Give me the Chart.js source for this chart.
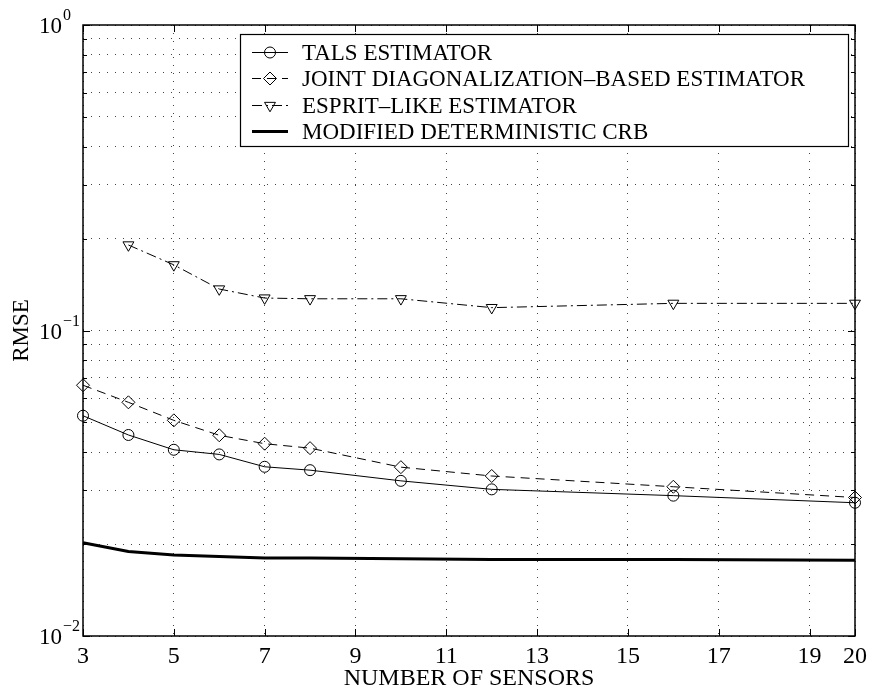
<!DOCTYPE html>
<html>
<head>
<meta charset="utf-8">
<title>RMSE vs number of sensors</title>
<script src="https://cdn.jsdelivr.net/npm/chart.js@4.4.1/dist/chart.umd.min.js"></script>
<style>
  html, body { margin: 0; padding: 0; background: #fff; }
  #wrap { width: 873px; height: 693px; }
</style>
</head>
<body>
<div id="wrap"><canvas id="rmseChart" width="873" height="693"></canvas></div>
<script>
const SERIF = '"Liberation Serif", "Times New Roman", Times, serif';

// values
const sensors = [3, 4, 5, 6, 7, 8, 10, 12, 16, 20];
const talsRmse = [0.0526, 0.0455, 0.0407, 0.0393, 0.0358, 0.0349, 0.0322, 0.0302, 0.0288, 0.0273];
const jointRmse = [0.0662, 0.0582, 0.0508, 0.0454, 0.0426, 0.0412, 0.0357, 0.0334, 0.0308, 0.0284];
const espritRmse = [null, 0.1905, 0.164, 0.1367, 0.1277, 0.127, 0.127, 0.1188, 0.1227, 0.1227];
const crbRmse = [0.0202, 0.0189, 0.0184, 0.0182, 0.0180, 0.0180, 0.0179, 0.0178, 0.0178, 0.0177];

const seriesNames = [
  "TALS ESTIMATOR",
  "JOINT DIAGONALIZATION\u2013BASED ESTIMATOR",
  "ESPRIT\u2013LIKE ESTIMATOR",
  "MODIFIED DETERMINISTIC CRB"
];
const xTicks = [3, 5, 7, 9, 11, 13, 15, 17, 19, 20];
const yTicks = [0.01, 0.02, 0.03, 0.04, 0.05, 0.06, 0.07, 0.08, 0.09,
                0.1, 0.2, 0.3, 0.4, 0.5, 0.6, 0.7, 0.8, 0.9, 1];
const yDecades = [0.01, 0.1, 1];

function toPoints(vals) {
  return sensors.map((s, i) => ({ x: s, y: vals[i] }));
}

// box + inward tick marks like the matlab axes
const framePlugin = {
  id: 'frame',
  beforeDatasetsDraw(chart) {
    const { ctx, chartArea: a, scales: { x, y } } = chart;
    ctx.save();
    ctx.strokeStyle = '#000';
    ctx.lineWidth = 1;
    ctx.beginPath();
    xTicks.forEach(v => {
      const px = Math.round(x.getPixelForValue(v)) + 0.5;
      ctx.moveTo(px, a.bottom); ctx.lineTo(px, a.bottom - 7);
      ctx.moveTo(px, a.top); ctx.lineTo(px, a.top + 7);
    });
    yTicks.forEach(v => {
      const py = Math.round(y.getPixelForValue(v)) + 0.5;
      const len = yDecades.includes(v) ? 7 : 4;
      ctx.moveTo(a.left, py); ctx.lineTo(a.left + len, py);
      ctx.moveTo(a.right, py); ctx.lineTo(a.right - len, py);
    });
    ctx.stroke();
    ctx.lineWidth = 1.5;
    ctx.strokeRect(a.left, a.top, a.right - a.left, a.bottom - a.top);
    ctx.restore();
  }
};

// 10^k labels with raised exponent
const yLabelPlugin = {
  id: 'yLabels',
  afterDraw(chart) {
    const { ctx, chartArea: a, scales: { y } } = chart;
    ctx.save();
    ctx.fillStyle = '#000';
    ctx.textBaseline = 'middle';
    ctx.textAlign = 'left';
    yDecades.forEach(v => {
      const py = y.getPixelForValue(v);
      const x0 = a.left - 44;
      ctx.font = `23px ${SERIF}`;
      ctx.fillText('10', x0, py + 2);
      const w = ctx.measureText('10').width;
      const e = Math.round(Math.log10(v));
      ctx.font = `16px ${SERIF}`;
      ctx.fillText(e < 0 ? '\u2212' + (-e) : String(e), x0 + w + 1, py - 9);
    });
    ctx.restore();
  }
};

const legendBoxPlugin = {
  id: 'legendBox',
  afterDraw(chart) {
    const { ctx, chartArea: a } = chart;
    const left = a.left + 157, top = a.top + 9, w = 608, h = 112;
    ctx.save();
    ctx.fillStyle = '#fff';
    ctx.fillRect(left, top, w, h);
    ctx.strokeStyle = '#000';
    ctx.lineWidth = 1.2;
    ctx.strokeRect(left + 0.5, top + 0.5, w, h);
    chart.data.datasets.forEach((ds, i) => {
      const cy = Math.round(top + 17.7 + i * 26.4) + 0.5;
      ctx.strokeStyle = ds.borderColor;
      ctx.lineWidth = ds.borderWidth;
      ctx.setLineDash(ds.borderDash || []);
      ctx.beginPath();
      ctx.moveTo(left + 12, cy);
      ctx.lineTo(left + 48, cy);
      ctx.stroke();
      ctx.setLineDash([]);
      if (ds.pointRadius > 0) {
        ctx.fillStyle = 'rgba(0,0,0,0)';
        ctx.lineWidth = 1;
        Chart.helpers.drawPoint(ctx, {
          pointStyle: ds.pointStyle,
          rotation: ds.pointRotation || 0,
          radius: ds.pointRadius,
          borderWidth: 1
        }, left + 30, cy);
      }
      ctx.fillStyle = '#000';
      ctx.font = `23px ${SERIF}`;
      ctx.textBaseline = 'middle';
      ctx.textAlign = 'left';
      ctx.fillText(seriesNames[i], left + 62, cy + 1);
    });
    ctx.restore();
  }
};

const gridDots = {
  color: '#444',
  lineWidth: 1,
  drawTicks: false,
};

new Chart(document.getElementById('rmseChart').getContext('2d'), {
  type: 'line',
  data: {
    datasets: [{
      label: seriesNames[0],
      data: toPoints(talsRmse),
      borderColor: '#000',
      borderWidth: 1,
      pointStyle: 'circle',
      pointRadius: 5.5,
      pointBorderWidth: 1,
      pointBorderColor: '#000',
      pointBackgroundColor: 'rgba(0,0,0,0)',
      tension: 0,
      clip: false
    }, {
      label: seriesNames[1],
      data: toPoints(jointRmse),
      borderColor: '#000',
      borderWidth: 1,
      borderDash: [9, 6],
      pointStyle: 'rectRot',
      pointRadius: 6.5,
      pointBorderWidth: 1,
      pointBorderColor: '#000',
      pointBackgroundColor: 'rgba(0,0,0,0)',
      tension: 0,
      clip: false
    }, {
      label: seriesNames[2],
      data: toPoints(espritRmse),
      borderColor: '#000',
      borderWidth: 1,
      borderDash: [10, 4, 2, 4],
      pointStyle: 'triangle',
      pointRotation: 180,
      pointRadius: 6.3,
      pointBorderWidth: 1,
      pointBorderColor: '#000',
      pointBackgroundColor: 'rgba(0,0,0,0)',
      tension: 0,
      clip: false
    }, {
      label: seriesNames[3],
      data: toPoints(crbRmse),
      borderColor: '#000',
      borderWidth: 3,
      pointRadius: 0,
      tension: 0,
      clip: false
    }]
  },
  options: {
    responsive: false,
    animation: false,
    layout: { padding: { top: 25, right: 16, left: 0, bottom: 0 } },
    plugins: {
      legend: { display: false },
      tooltip: { enabled: false }
    },
    scales: {
      x: {
        type: 'linear',
        min: 3,
        max: 20,
        afterBuildTicks: s => { s.ticks = xTicks.map(v => ({ value: v })); },
        afterFit: s => { s.height = 57; },
        grid: Object.assign({}, gridDots),
        border: { display: false, dash: [1, 7] },
        ticks: {
          color: '#000',
          padding: 6,
          maxRotation: 0,
          autoSkip: false,
          font: { family: SERIF, size: 24 }
        },
        title: {
          display: true,
          text: 'NUMBER OF SENSORS',
          color: '#000',
          font: { family: SERIF, size: 24, lineHeight: 1 },
          padding: { top: 0, bottom: 2 }
        }
      },
      y: {
        type: 'logarithmic',
        min: 0.01,
        max: 1,
        afterBuildTicks: s => { s.ticks = yTicks.map(v => ({ value: v })); },
        afterFit: s => { s.width = 83; },
        grid: Object.assign({}, gridDots),
        border: { display: false, dash: [1, 7] },
        ticks: { display: false },
        title: {
          display: true,
          text: 'RMSE',
          color: '#000',
          font: { family: SERIF, size: 23, lineHeight: 1 },
          padding: { top: 10.5, bottom: 0 }
        }
      }
    }
  },
  plugins: [framePlugin, yLabelPlugin, legendBoxPlugin]
});
</script>
</body>
</html>
